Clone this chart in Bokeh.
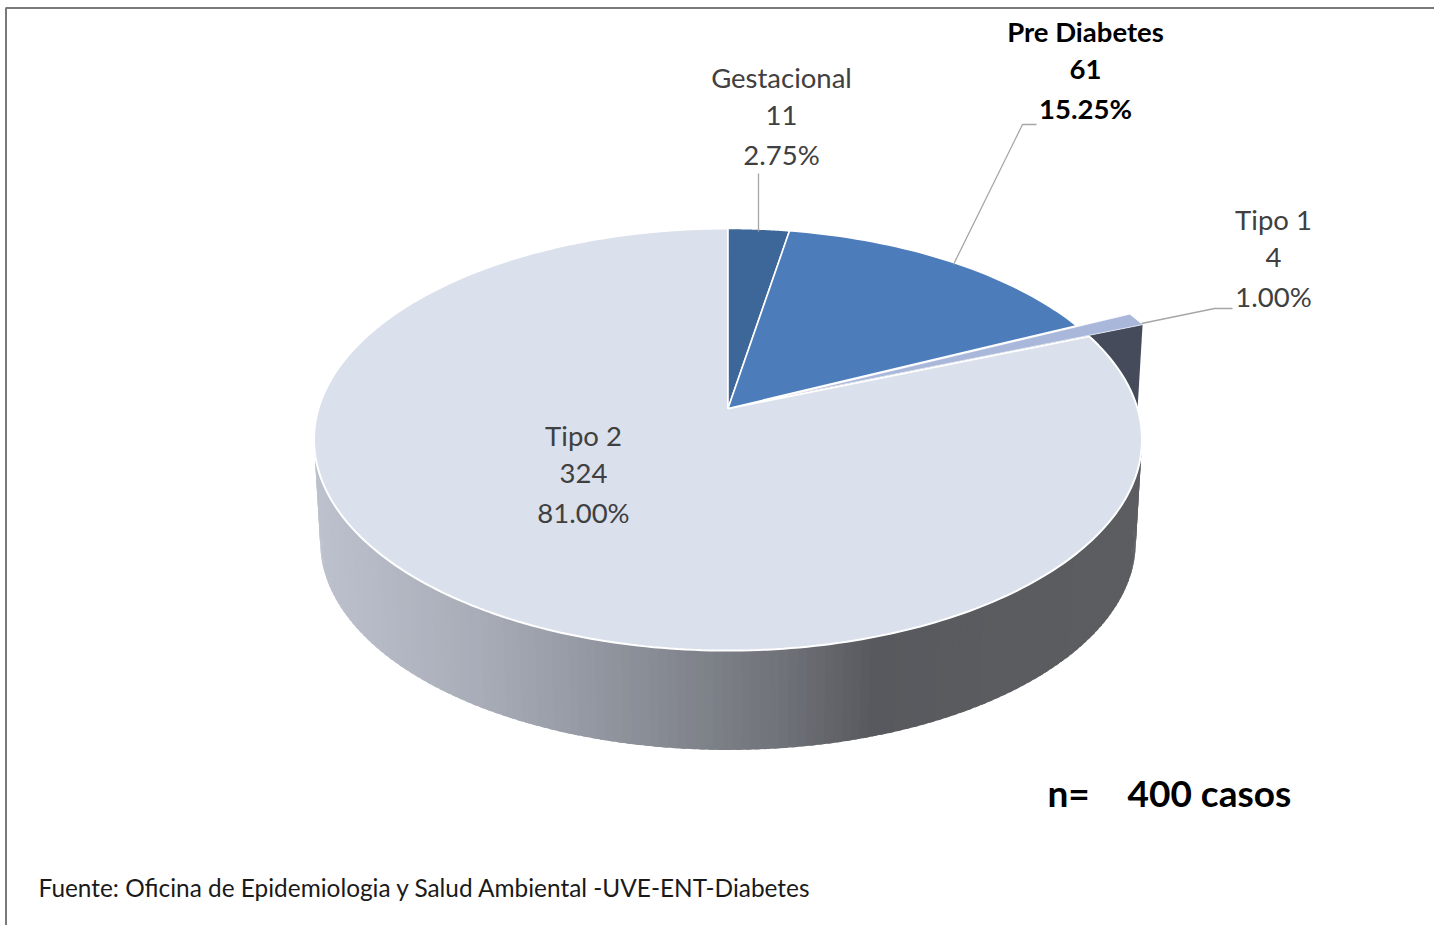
import math
from bokeh.plotting import figure
from bokeh.embed import file_html
from bokeh.resources import INLINE
from bokeh.core.properties import value

# ---------- data ----------
categories = ["Gestacional", "Pre Diabetes", "Tipo 1", "Tipo 2"]
counts = [11, 61, 4, 324]
percent_labels = ["2.75%", "15.25%", "1.00%", "81.00%"]
colors = ["#3d6699", "#4c7dba", "#a9b8da", "#dae0ec"]
source_label = "Fuente: Oficina de Epidemiologia y Salud Ambiental -UVE-ENT-Diabetes"

W, H = 1434, 925
p = figure(width=W, height=H, x_range=(0, W), y_range=(H, 0), toolbar_location=None,
           output_backend="svg", min_border=0, outline_line_color=None,
           margin=(0, 0, 0, 0), background_fill_color="white", border_fill_color="white")
p.axis.visible = False
p.grid.visible = False

# ---------- projected pie geometry ----------
CX, AY = 727.5, 408.0
K = 0.147
R, S = 409.5, 206.5
DEPTH_Y, SCALE_LOW = 103.0, 0.985
EXPLODE = 0.16

def proj(ang, r=1.0, dx=0.0, dy=0.0, low=False):
    X = r * math.sin(ang) + dx
    Y = r * math.cos(ang) + dy
    d = 1 + K * Y
    px, py = R * X / d, S * Y / d
    if low:
        return CX + SCALE_LOW * px, AY + DEPTH_Y - SCALE_LOW * py
    return CX + px, AY - py

def arc(a0, a1, n, **kw):
    return [proj(a0 + (a1 - a0) * i / n, **kw) for i in range(n + 1)]

total = sum(counts)
angles = [0.0]
for c in counts:
    angles.append(angles[-1] + 2 * math.pi * c / total)

def mix(stops, x):
    if x <= stops[0][0]:
        return stops[0][1]
    for (x0, c0), (x1, c1) in zip(stops, stops[1:]):
        if x <= x1:
            t = (x - x0) / (x1 - x0)
            a = [int(c0[i:i + 2], 16) for i in (1, 3, 5)]
            b = [int(c1[i:i + 2], 16) for i in (1, 3, 5)]
            return "#%02x%02x%02x" % tuple(round(u + (v - u) * t) for u, v in zip(a, b))
    return stops[-1][1]

wall_stops = [(318, "#bcc1cd"), (480, "#a8acb7"), (640, "#8a8e97"), (780, "#6f7278"),
              (870, "#57595e"), (1000, "#5a5c60"), (1140, "#5c5d61")]

# side wall of Tipo 2, in thin strips that carry the horizontal gradient
a0, a1 = angles[3], angles[4]
N = 260
xs, ys, cs = [], [], []
for i in range(N):
    t0 = a0 + (a1 - a0) * i / N
    t1 = a0 + (a1 - a0) * (i + 1.6) / N
    q = [proj(t0), proj(t1), proj(t1, low=True), proj(t0, low=True)]
    xs.append([u[0] for u in q])
    ys.append([u[1] for u in q])
    cs.append(mix(wall_stops, sum(u[0] for u in q) / 4))
p.patches(xs, ys, fill_color=cs, line_color=None)

# exploded Tipo 1: offset in the plane of the pie
mid = (angles[2] + angles[3]) / 2
ex, ey = EXPLODE * math.sin(mid), EXPLODE * math.cos(mid)

# dark side wall of the exploded slice (mostly hidden by Tipo 2)
A = proj(0, r=0, dx=ex, dy=ey)
Al = proj(0, r=0, dx=ex, dy=ey, low=True)
C = proj(angles[3], dx=ex, dy=ey)
Cl = proj(angles[3], dx=ex, dy=ey, low=True)
p.patch([A[0], C[0], Cl[0], Al[0]], [A[1], C[1], Cl[1], Al[1]], fill_color="#454b5a", line_color=None)

# top faces: Tipo 2 first, then the others
apex = proj(0, r=0)
order = [3, 2, 0, 1]
for i in order:
    if i == 2:
        pts = [A] + arc(angles[i], angles[i + 1], 6, dx=ex, dy=ey) + [A]
    else:
        pts = [apex] + arc(angles[i], angles[i + 1], 300 if i == 3 else 40) + [apex]
    p.patch([u[0] for u in pts], [u[1] for u in pts], fill_color=colors[i],
            line_color="white", line_width=0.6 if i == 2 else (2.0 if i == 3 else 1.6))

# leader lines
LEADER = "#a6a6a6"
p.line([758, 758], [173, 231], line_color=LEADER, line_width=1.3)
p.line([1036, 1022, 953], [124, 124, 264], line_color=LEADER, line_width=1.3)
p.line([1141, 1214, 1232], [323, 308, 308], line_color=LEADER, line_width=1.3)

# frame
p.line([5.5, 5.5, W], [H, 7.5, 7.5], line_color="#7a7a7a", line_width=2)

# labels
FONT = value("Lato")
LINE_Y = [0, 38, 77]
label_pos = [(781, 76.5), (1085, 30.5), (1273, 218.5), (583, 434.5)]
for i, (lx, ly) in enumerate(label_pos):
    bold = i == 1
    for text, dy in zip([categories[i], str(counts[i]), percent_labels[i]], LINE_Y):
        p.text([lx], [ly + dy], text=[text], text_font=FONT, text_font_size="27.5px",
               text_font_style="bold" if bold else "normal",
               text_color="#000000" if bold else "#404040",
               text_align="center", text_baseline="middle")

p.text([1047], [792], text=["n="], text_font=FONT, text_font_size="37px", text_font_style="bold",
       text_color="#000000", text_align="left", text_baseline="middle")
p.text([1127], [792], text=["400 casos"], text_font=FONT, text_font_size="37px", text_font_style="bold",
       text_color="#000000", text_align="left", text_baseline="middle")
p.text([38], [887], text=[source_label], text_font=FONT, text_font_size="24.4px",
       text_color="#1a1a1a", text_align="left", text_baseline="middle")

open("out.html", "w").write(file_html(p, INLINE))
